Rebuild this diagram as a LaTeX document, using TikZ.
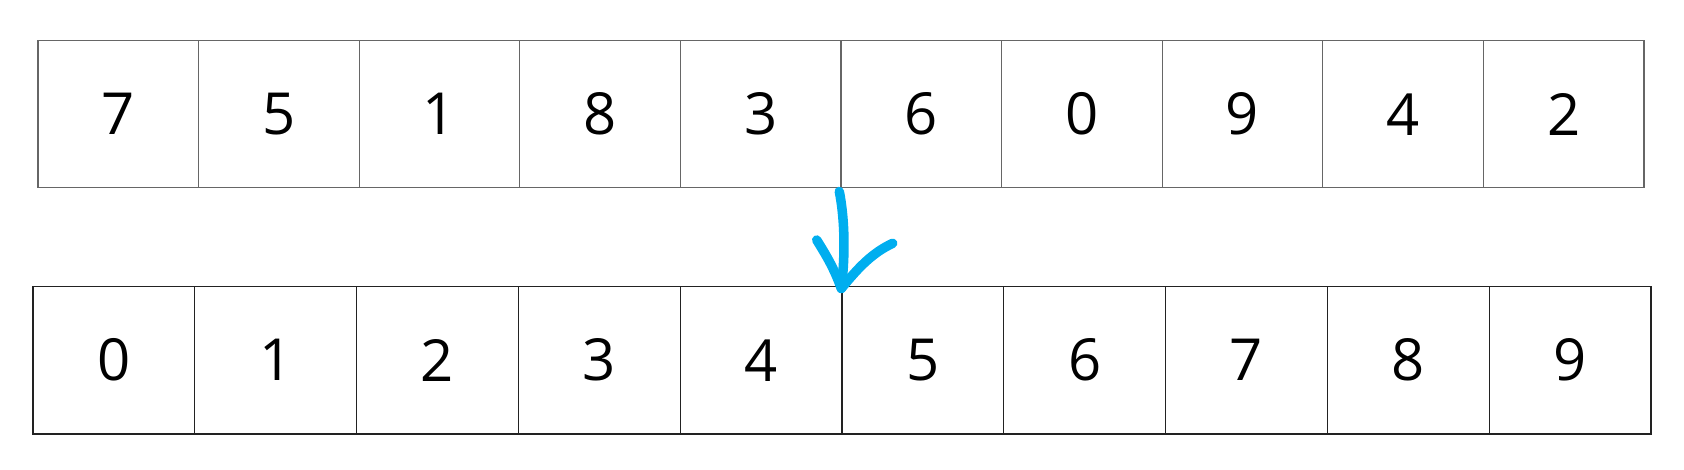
\documentclass[tikz,border=0pt]{standalone}
\usepackage{fontspec}
\setmainfont{Open Sans}
\definecolor{arrowblue}{HTML}{00AEEF}
\definecolor{topline}{HTML}{666666}
\definecolor{botline}{HTML}{222222}
\begin{document}
\begin{tikzpicture}[x=1pt,y=-1pt,
  cellbox/.style={draw, line width=1.2pt, inner sep=0pt, anchor=north west,
    font=\fontsize{58}{70}\selectfont},
  topcell/.style={cellbox, draw=topline, minimum width=160.6pt, minimum height=147.3pt},
  botcell/.style={cellbox, draw=botline, minimum width=161.8pt, minimum height=147.3pt},
  handline/.style={draw=arrowblue, line width=9.5pt, line cap=round, line join=round}]
\useasboundingbox (0,0) rectangle (1684,470);
\foreach \v [count=\i from 0] in {7,5,1,8,3,6,0,9,4,2}{
  \node[topcell] (t\i) at ({37.3+\i*160.6},40) {\v};
}
\foreach \v [count=\i from 0] in {0,1,2,3,4,5,6,7,8,9}{
  \node[botcell] (b\i) at ({32.3+\i*161.8},286) {\v};
}
\coordinate (s) at ([xshift=-1pt,yshift=-3pt]t5.south west);
\coordinate (tip) at ([yshift=-2.5pt]b5.north west);
\coordinate (lb) at (816.7,240);
\coordinate (rb) at (892.7,243.3);
\draw[handline] (s) .. controls (844,215) and (846,250) .. (tip);
\draw[handline] (lb) .. controls (826,255) and (834,268) .. (tip);
\draw[handline] (tip) .. controls (858,268) and (872,253) .. (rb);
\end{tikzpicture}
\end{document}
